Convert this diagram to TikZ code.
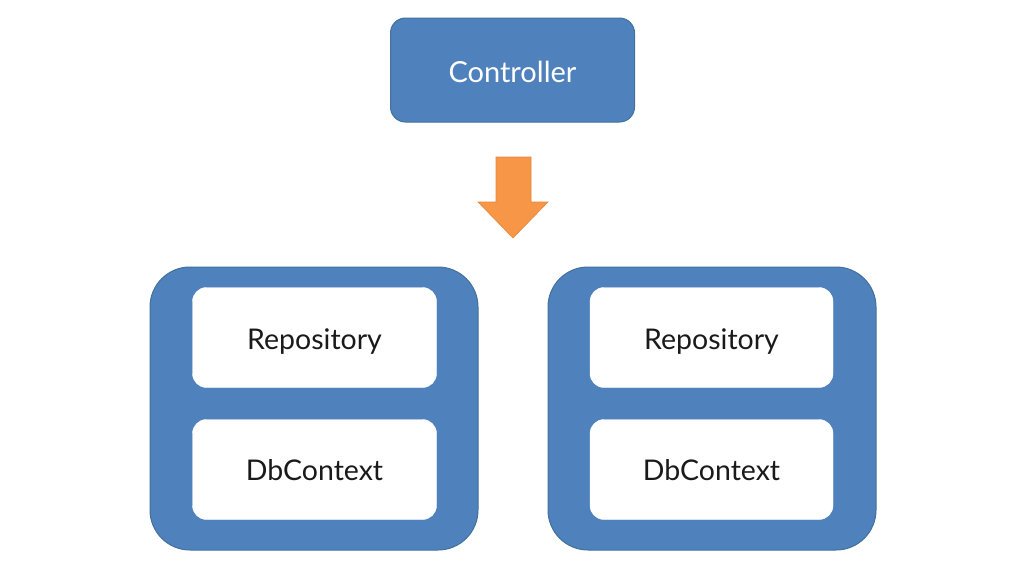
\documentclass[tikz,border=0pt]{standalone}
\usepackage{fontspec}
\setmainfont{Lato}
\definecolor{boxblue}{HTML}{4F81BD}
\definecolor{boxedge}{HTML}{41719C}
\definecolor{arroworange}{HTML}{F79646}
\definecolor{arrowedge}{HTML}{E08A3C}
\definecolor{txtdark}{HTML}{1A1A1A}
\begin{document}
\begin{tikzpicture}[x=1pt,y=-1pt,
  bluebox/.style={draw=boxedge, line width=1pt, fill=boxblue, rounded corners=15pt, inner sep=0pt,
    text height=26pt, text depth=2pt},
  outerbox/.style={draw=boxedge, line width=1pt, fill=boxblue, rounded corners=40pt, inner sep=0pt},
  innerbox/.style={draw=white, fill=white, rounded corners=14pt, inner sep=0pt, text=txtdark,
    font=\fontsize{28.5}{34}\selectfont, text height=26pt, text depth=2pt},
  dbbox/.style={innerbox, text height=23pt, text depth=2pt},
]
\useasboundingbox (0,0) rectangle (1014,570);
\fill[white] (0,0) rectangle (1014,570);
% Controller
\node[bluebox, minimum width=244pt, minimum height=104pt, text=white,
  font=\fontsize{29}{34}\selectfont] (ctrl) at (512.5,70) {Controller};
% Arrow
\fill[arroworange, draw=arrowedge, line width=0.6pt]
  (496,157) -- (531,157) -- (531,202) -- (548,202) -- (513,238) -- (478,202) -- (496,202) -- cycle;
% Left container
\node[outerbox, minimum width=328pt, minimum height=283pt] (left) at (314,408.5) {};
\node[innerbox, minimum width=244pt, minimum height=100pt] (lrepo) at (314.5,337.5) {Repository};
\node[dbbox, minimum width=244pt, minimum height=100pt] (ldb) at (314.5,469.5) {DbContext};
% Right container
\node[outerbox, minimum width=328pt, minimum height=283pt] (right) at (712,408.5) {};
\node[innerbox, minimum width=243pt, minimum height=100pt] (rrepo) at (711.5,337.5) {Repository};
\node[dbbox, minimum width=243pt, minimum height=100pt] (rdb) at (711.5,469.5) {DbContext};
\end{tikzpicture}
\end{document}
